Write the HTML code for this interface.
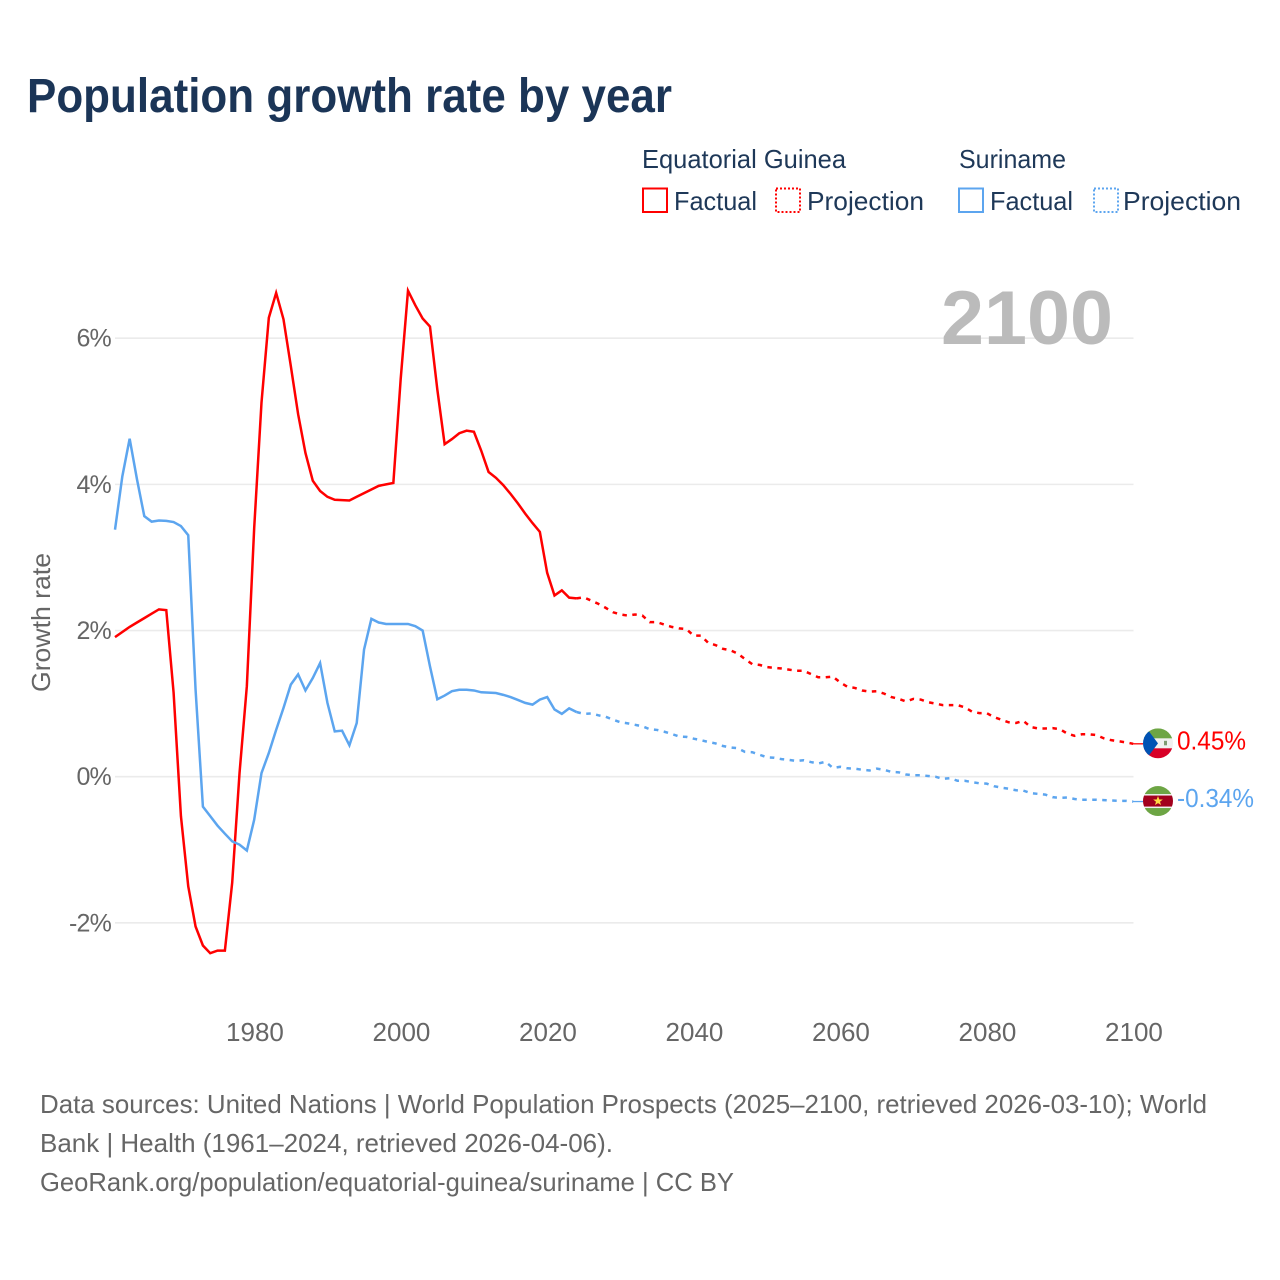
<!DOCTYPE html>
<html lang="en">
<head>
<meta charset="utf-8">
<title>Population growth rate by year</title>
<style>
html,body{margin:0;padding:0;background:#fff;}
svg{display:block;font-family:"Liberation Sans",sans-serif;}
</style>
</head>
<body>
<svg id="chart" xmlns="http://www.w3.org/2000/svg" width="1280" height="1280" viewBox="0 0 1280 1280">
  <defs>
    <clipPath id="clip-gq"><circle cx="0" cy="0" r="15"/></clipPath>
    <clipPath id="clip-sr"><circle cx="0" cy="0" r="15"/></clipPath>
  </defs>
  <rect x="0" y="0" width="1280" height="1280" fill="#fff"/>
  <text x="27" y="112" font-size="48" font-weight="bold" fill="#1b3557" textLength="645" lengthAdjust="spacingAndGlyphs">Population growth rate by year</text>

  <g fill="#1e3858" font-size="26">
    <text x="642" y="168" textLength="204" lengthAdjust="spacingAndGlyphs">Equatorial Guinea</text>
    <text x="959" y="168" textLength="107" lengthAdjust="spacingAndGlyphs">Suriname</text>
    <g>
      <rect x="643" y="188.5" width="24" height="23.5" fill="none" stroke="#ff0000" stroke-width="2"/>
      <text x="674" y="210" textLength="83" lengthAdjust="spacingAndGlyphs">Factual</text>
    </g>
    <g>
      <rect x="776" y="188.5" width="24" height="23.5" fill="none" stroke="#ff0000" stroke-width="2" stroke-dasharray="2 2"/>
      <text x="807" y="210" textLength="117" lengthAdjust="spacingAndGlyphs">Projection</text>
    </g>
    <g>
      <rect x="959" y="188.5" width="24" height="23.5" fill="none" stroke="#5ca5ef" stroke-width="2"/>
      <text x="990" y="210" textLength="83" lengthAdjust="spacingAndGlyphs">Factual</text>
    </g>
    <g>
      <rect x="1094" y="188.5" width="24" height="23.5" fill="none" stroke="#5ca5ef" stroke-width="2" stroke-dasharray="2 2"/>
      <text x="1123" y="210" textLength="118" lengthAdjust="spacingAndGlyphs">Projection</text>
    </g>
  </g>

  <g id="grid"></g>
  <text x="941" y="344" font-size="76" font-weight="bold" fill="#bbbbbb" textLength="172" lengthAdjust="spacingAndGlyphs">2100</text>
  <g id="ytick-labels"></g>
  <g id="xtick-labels"></g>
  <text transform="translate(50 692) rotate(-90)" font-size="26" fill="#666666" textLength="139" lengthAdjust="spacingAndGlyphs">Growth rate</text>
  <g id="series"></g>

  <g id="flag-gq">
    <g clip-path="url(#clip-gq)">
      <rect x="-15" y="-15" width="30" height="30" fill="#f0f0f0"/>
      <rect x="-15" y="-15" width="30" height="10" fill="#6da544"/>
      <rect x="-15" y="5" width="30" height="10" fill="#d80027"/>
      <polygon points="-15,-15 -9,-12 0,0 -9,12 -15,15" fill="#0052b4"/>
      <rect x="6" y="-2.5" width="3" height="4.5" fill="#7f9a72"/>
    </g>
  </g>
  <g id="flag-sr">
    <g clip-path="url(#clip-sr)">
      <rect x="-15" y="-15" width="30" height="30" fill="#f0f0f0"/>
      <rect x="-15" y="-15" width="30" height="8" fill="#6da544"/>
      <rect x="-15" y="7" width="30" height="8" fill="#6da544"/>
      <rect x="-15" y="-5.5" width="30" height="11" fill="#a2001d"/>
      <polygon points="0,-5 1.3,-1.6 4.8,-1.5 2,0.7 3,4 0,2.1 -3,4 -2,0.7 -4.8,-1.5 -1.3,-1.6" fill="#ffda44"/>
    </g>
  </g>
  <text id="end-label-gq" x="1177" font-size="26" fill="#ff0000" textLength="69" lengthAdjust="spacingAndGlyphs"></text>
  <text id="end-label-sr" x="1177" font-size="26" fill="#5ca5ef" textLength="77" lengthAdjust="spacingAndGlyphs"></text>

  <g font-size="26" fill="#666666">
    <text x="40" y="1113" textLength="1167" lengthAdjust="spacingAndGlyphs">Data sources: United Nations | World Population Prospects (2025–2100, retrieved 2026-03-10); World</text>
    <text x="40" y="1152" textLength="573" lengthAdjust="spacingAndGlyphs">Bank | Health (1961–2024, retrieved 2026-04-06).</text>
    <text x="40" y="1191" textLength="694" lengthAdjust="spacingAndGlyphs">GeoRank.org/population/equatorial-guinea/suriname | CC BY</text>
  </g>
</svg>
<script>
const firstYear = 1961;
const lastFactualYear = 2024;
const xTicks = [1980, 2000, 2020, 2040, 2060, 2080, 2100];
const yTicks = [-2, 0, 2, 4, 6];
const yTickLabels = ["-2%", "0%", "2%", "4%", "6%"];
const endLabelGq = "0.45%";
const endLabelSr = "-0.34%";
const guineaValues = [
  1.91, 1.98, 2.05, 2.11, 2.17, 2.23, 2.29, 2.28, 1.15, -0.54,
  -1.5, -2.05, -2.31, -2.415, -2.38, -2.38, -1.45, 0.05, 1.24, 3.4,
  5.12, 6.28, 6.62, 6.26, 5.62, 4.96, 4.43, 4.05, 3.91, 3.83,
  3.79, 3.785, 3.78, 3.83, 3.88, 3.93, 3.98, 4.0, 4.02, 5.44,
  6.65, 6.45, 6.27, 6.16, 5.3, 4.55, 4.62, 4.7, 4.735, 4.72,
  4.46, 4.17, 4.09, 3.99, 3.87, 3.74, 3.6, 3.47, 3.35, 2.79,
  2.48, 2.55, 2.45, 2.44,
  2.455, 2.41, 2.365, 2.31, 2.25, 2.22, 2.205, 2.22, 2.205, 2.115,
  2.115, 2.08, 2.05, 2.03, 2.02, 1.93, 1.93, 1.83, 1.8, 1.75,
  1.73, 1.685, 1.61, 1.54, 1.53, 1.5, 1.49, 1.48, 1.465, 1.45,
  1.45, 1.405, 1.36, 1.36, 1.37, 1.29, 1.23, 1.215, 1.18, 1.165,
  1.17, 1.137, 1.09, 1.065, 1.03, 1.065, 1.055, 1.02, 1.0, 0.98,
  0.98, 0.98, 0.95, 0.89, 0.87, 0.87, 0.815, 0.78, 0.745, 0.735,
  0.765, 0.68, 0.66, 0.66, 0.665, 0.65, 0.59, 0.56, 0.58, 0.58,
  0.57, 0.525, 0.5, 0.485, 0.47, 0.45
];
const surinameValues = [
  3.38, 4.11, 4.625, 4.07, 3.565, 3.49, 3.505, 3.5, 3.485, 3.43,
  3.305, 1.19, -0.41, -0.54, -0.67, -0.78, -0.885, -0.93, -1.01, -0.59,
  0.05, 0.325, 0.64, 0.94, 1.26, 1.4, 1.18, 1.35, 1.555, 1.01,
  0.62, 0.63, 0.43, 0.735, 1.74, 2.16, 2.11, 2.09, 2.09, 2.09,
  2.09, 2.06, 2.0, 1.51, 1.06, 1.11, 1.17, 1.19, 1.19, 1.18,
  1.155, 1.15, 1.145, 1.12, 1.09, 1.05, 1.01, 0.986, 1.055, 1.09,
  0.92, 0.86, 0.935, 0.885,
  0.86, 0.865, 0.84, 0.82, 0.78, 0.745, 0.73, 0.71, 0.69, 0.65,
  0.64, 0.615, 0.585, 0.55, 0.545, 0.52, 0.5, 0.475, 0.455, 0.42,
  0.4, 0.39, 0.34, 0.335, 0.3, 0.265, 0.26, 0.24, 0.23, 0.215,
  0.225, 0.2, 0.18, 0.205, 0.12, 0.135, 0.115, 0.11, 0.095, 0.085,
  0.11, 0.095, 0.065, 0.06, 0.03, 0.02, 0.02, 0.01, 0, -0.03,
  -0.02, -0.055, -0.055, -0.075, -0.09, -0.095, -0.13, -0.15, -0.165, -0.185,
  -0.19, -0.225, -0.235, -0.245, -0.28, -0.29, -0.285, -0.305, -0.315, -0.315,
  -0.315, -0.32, -0.325, -0.33, -0.33, -0.34
];

const SVG_NS = "http://www.w3.org/2000/svg";
function xScale(year) { return 115 + (year - 1961) * 7.325; }
function yScale(v) { return 776.7 - v * 73.08; }
function pathFor(values, fromYear, toYear) {
  const pts = [];
  for (let yr = fromYear; yr <= toYear; yr++) {
    const v = values[yr - firstYear];
    pts.push((pts.length ? "L" : "M") + xScale(yr).toFixed(2) + "," + yScale(v).toFixed(2));
  }
  return pts.join(" ");
}
const gridGroup = document.getElementById("grid");
const yLabelGroup = document.getElementById("ytick-labels");
yTicks.forEach(function (t, i) {
  const line = document.createElementNS(SVG_NS, "line");
  
  
  line.setAttribute("x1", 115);
  line.setAttribute("x2", 1133.5);
  line.setAttribute("y1", yScale(t));
  line.setAttribute("y2", yScale(t));
  line.setAttribute("stroke", "#ebebeb");
  line.setAttribute("stroke-width", 1.6);
  gridGroup.appendChild(line);
  const label = document.createElementNS(SVG_NS, "text");
  
  
  label.setAttribute("x", 111);
  label.setAttribute("y", yScale(t) + 8.5);
  label.setAttribute("text-anchor", "end");
  label.setAttribute("font-size", 25);
  label.setAttribute("letter-spacing", "-0.8");
  label.setAttribute("fill", "#666666");
  label.textContent = yTickLabels[i];
  yLabelGroup.appendChild(label);
});
const xLabelGroup = document.getElementById("xtick-labels");
xTicks.forEach(function (t) {
  const label = document.createElementNS(SVG_NS, "text");
  
  
  label.setAttribute("x", xScale(t) + 0.8);
  label.setAttribute("y", 1041);
  label.setAttribute("text-anchor", "middle");
  label.setAttribute("font-size", 26);
  label.setAttribute("fill", "#666666");
  label.textContent = String(t);
  xLabelGroup.appendChild(label);
});
const seriesGroup = document.getElementById("series");
function addLine(values, from, to, color, dash, name) {
  const p = document.createElementNS(SVG_NS, "path");
  
  
  p.setAttribute("d", pathFor(values, from, to));
  p.setAttribute("fill", "none");
  p.setAttribute("stroke", color);
  p.setAttribute("stroke-width", 2.5);
  if (dash) p.setAttribute("stroke-dasharray", dash);
  seriesGroup.appendChild(p);
}
addLine(guineaValues, firstYear, lastFactualYear, "#ff0000", null, "line-equatorial-guinea-factual");
addLine(guineaValues, lastFactualYear, 2100, "#ff0000", "4.5 5.5", "line-equatorial-guinea-projection");
addLine(surinameValues, firstYear, lastFactualYear, "#5ca5ef", null, "line-suriname-factual");
addLine(surinameValues, lastFactualYear, 2100, "#5ca5ef", "4.5 5.5", "line-suriname-projection");

function placeEnd(values, color, flagId, labelId, text, name, labelOffset) {
  const y = yScale(values[values.length - 1]);
  const conn = document.createElementNS(SVG_NS, "line");
  
  
  conn.setAttribute("x1", 1133);
  conn.setAttribute("x2", 1144);
  conn.setAttribute("y1", y);
  conn.setAttribute("y2", y);
  conn.setAttribute("stroke", color);
  conn.setAttribute("stroke-width", 1.3);
  seriesGroup.appendChild(conn);
  document.getElementById(flagId).setAttribute("transform", "translate(1158 " + (y - 0.5) + ")");
  const label = document.getElementById(labelId);
  label.setAttribute("y", y + labelOffset);
  label.textContent = text;
}
placeEnd(guineaValues, "#ff0000", "flag-gq", "end-label-gq", endLabelGq, "connector-equatorial-guinea", 5.5);
placeEnd(surinameValues, "#5ca5ef", "flag-sr", "end-label-sr", endLabelSr, "connector-suriname", 5.5);
</script>
</body>
</html>
